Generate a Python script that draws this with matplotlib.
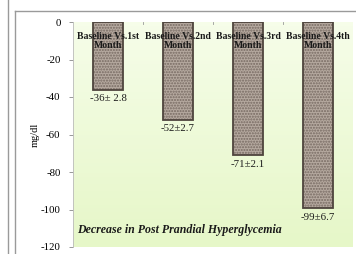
import numpy as np
import matplotlib
matplotlib.use('Agg')
import matplotlib.pyplot as plt
from matplotlib.lines import Line2D

# data
categories = ['Baseline Vs.1st\nMonth', 'Baseline Vs.2nd\nMonth',
              'Baseline Vs.3rd\nMonth', 'Baseline Vs.4th\nMonth']
values = [-36, -52, -71, -99]
errors = [2.8, 2.7, 2.1, 6.7]
value_labels = ['-36\u00b1 2.8', '-52\u00b12.7', '-71\u00b12.1', '-99\u00b16.7']
yticks = [0, -20, -40, -60, -80, -100, -120]

plt.rcParams['font.family'] = ['Liberation Serif', 'DejaVu Serif']

fig = plt.figure(figsize=(3.56, 2.54), dpi=100)
fig.patch.set_facecolor('white')

# outer frame lines
fig.add_artist(Line2D([7.5/356, 7.5/356], [0, 1], color='#9a9a9a', lw=1.0))
fig.add_artist(Line2D([15/356, 15/356], [0, 1-10.5/254], color='#9a9a9a', lw=1.0))
fig.add_artist(Line2D([15/356, 1], [1-10.5/254, 1-10.5/254], color='#9a9a9a', lw=1.0))

ax = fig.add_axes([73/356, 7/254, 280/356, 225/254])
# plot area gradient background
grad = np.linspace(0, 1, 64).reshape(-1, 1)
ax.imshow(grad, extent=[-0.5, 3.5, -120, 0], aspect='auto', zorder=0,
          cmap=matplotlib.colors.LinearSegmentedColormap.from_list('g', ['#e6f7c8', '#f6fde9']),
          origin='lower')
x = np.arange(len(categories))
ax.bar(x, values, width=0.42, color='#b5a99f', edgecolor='#766961', hatch='......',
       linewidth=0, zorder=2)
ax.bar(x, values, width=0.42, fill=False, edgecolor='#4e443d', linewidth=1.3, zorder=3)

for xi, lab in zip(x, categories):
    ax.text(xi, -5.5, lab, ha='center', va='top', fontsize=7.0, fontweight='bold',
            color='#1a1a1a', linespacing=0.95, zorder=4)
for xi, v, lab in zip(x, values, value_labels):
    ax.text(xi, v - 2.6, lab, ha='center', va='top', fontsize=7.8, color='#1a1a1a', zorder=4)

ax.text(-0.44, -111, 'Decrease in Post Prandial Hyperglycemia', ha='left', va='center',
        fontsize=8.6, fontstyle='italic', fontweight='bold', color='#1a1a1a', zorder=4)

ax.set_xlim(-0.5, 3.5)
ax.set_ylim(-120, 0)
ax.set_yticks(yticks)
ax.set_yticklabels([str(t) for t in yticks], fontsize=7.8)
ax.set_xticks([])
ax.tick_params(axis='y', length=3, width=0.6, color='#888888', pad=6)
for bx in [0.5, 1.5, 2.5]:
    ax.plot([bx, bx], [0, -1.2], color='#999999', lw=0.6, zorder=1)
for s in ['top', 'right', 'bottom']:
    ax.spines[s].set_visible(False)
ax.spines['left'].set_color('#bbbbbb')
ax.spines['left'].set_linewidth(0.6)
ax.set_ylabel('mg/dl', fontsize=7.5, labelpad=1)

fig.savefig('out.png', dpi=100)
